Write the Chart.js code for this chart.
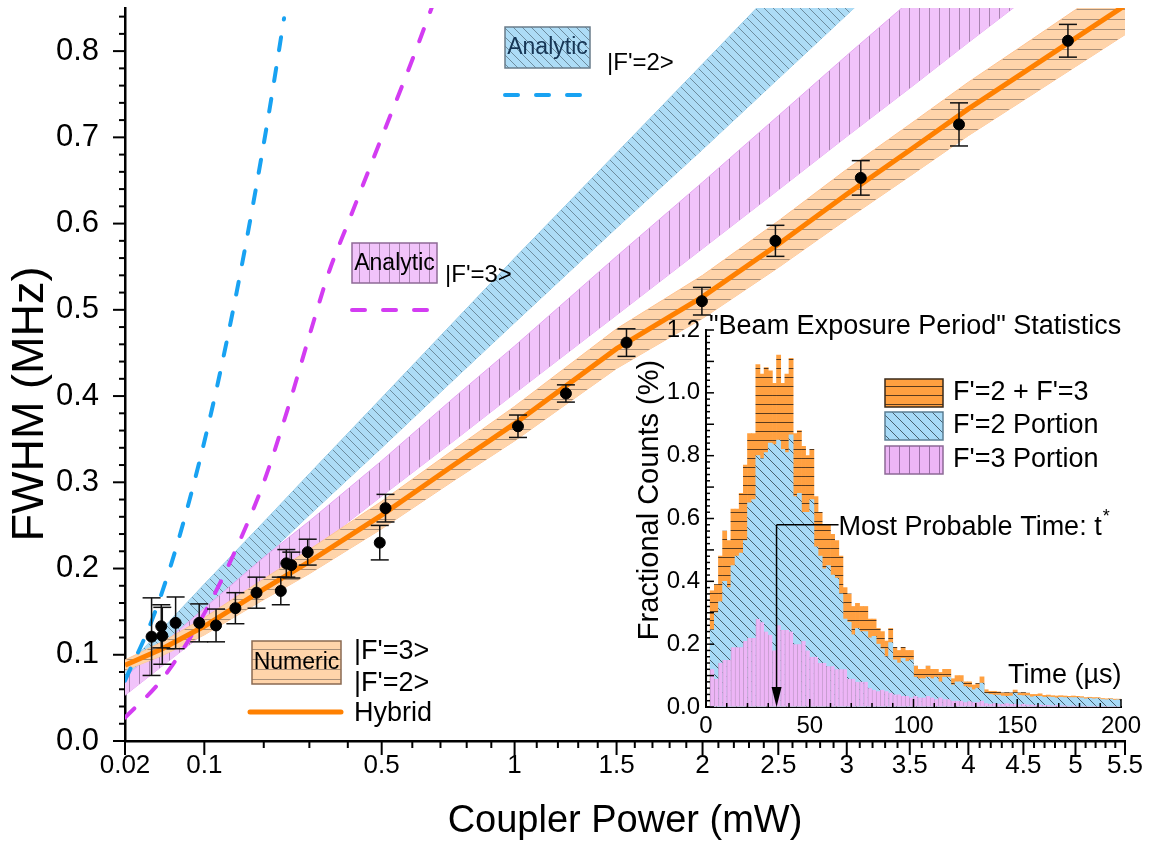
<!DOCTYPE html>
<html>
<head>
<meta charset="utf-8">
<script src="https://cdn.jsdelivr.net/npm/chart.js@4.4.1/dist/chart.umd.min.js"></script>
<style>
  html, body { margin: 0; padding: 0; background: #fff; }
  #wrap { position: relative; width: 1163px; height: 848px; }
  #wrap canvas { position: absolute; left: 0; top: 0; }
</style>
</head>
<body>
<div id="wrap">
  <canvas id="main" width="1163" height="848"></canvas>
  <canvas id="inset" width="1163" height="848"></canvas>
</div>
<script>
// ---------- main chart data ----------
const powerTicks = [0.02, 0.1, 0.5, 1, 1.5, 2, 2.5, 3, 3.5, 4, 4.5, 5, 5.5];
const fwhmTicks = [0, 0.1, 0.2, 0.3, 0.4, 0.5, 0.6, 0.7, 0.8];

const measPower = [0.04, 0.049, 0.05, 0.064, 0.093, 0.117, 0.148, 0.186, 0.235, 0.247, 0.258, 0.296, 0.494, 0.512, 1.015, 1.239, 1.554, 1.996, 2.48, 3.108, 3.918, 4.926];
const measFwhm = [0.121, 0.133, 0.122, 0.137, 0.137, 0.134, 0.154, 0.172, 0.174, 0.206, 0.204, 0.219, 0.230, 0.270, 0.365, 0.403, 0.462, 0.510, 0.580, 0.653, 0.715, 0.812];
const measErr = [0.045, 0.025, 0.033, 0.030, 0.022, 0.019, 0.018, 0.018, 0.016, 0.016, 0.015, 0.015, 0.020, 0.016, 0.013, 0.010, 0.016, 0.016, 0.018, 0.020, 0.025, 0.019];

const curvePower = [0.02, 0.05, 0.1, 0.2, 0.3, 0.5, 0.75, 1, 1.5, 2, 2.5, 3, 3.5, 4, 4.5, 5, 5.5];
const hybridFwhm = [0.088, 0.107, 0.133, 0.176, 0.208, 0.262, 0.32, 0.368, 0.455, 0.515, 0.576, 0.634, 0.685, 0.733, 0.775, 0.815, 0.853];
const numericUpper = [0.094, 0.115, 0.143, 0.188, 0.222, 0.278, 0.338, 0.388, 0.478, 0.54, 0.603, 0.663, 0.715, 0.764, 0.807, 0.848, 0.887];
const numericLower = [0.082, 0.099, 0.123, 0.164, 0.194, 0.246, 0.302, 0.348, 0.432, 0.49, 0.549, 0.605, 0.655, 0.702, 0.743, 0.782, 0.819];
const analyticF2Upper = [0.085, 0.130, 0.182, 0.254, 0.310, 0.398, 0.486, 0.560, 0.682, 0.785, 0.876, 0.958, 1.03, 1.10, 1.17, 1.23, 1.29];
const analyticF2Lower = [0.060, 0.101, 0.147, 0.212, 0.262, 0.340, 0.419, 0.485, 0.595, 0.686, 0.768, 0.842, 0.910, 0.973, 1.03, 1.09, 1.14];
const analyticF3Upper = [0.074, 0.112, 0.154, 0.213, 0.255, 0.325, 0.398, 0.458, 0.562, 0.648, 0.725, 0.795, 0.858, 0.916, 0.971, 1.024, 1.073];
const analyticF3Lower = [0.053, 0.087, 0.125, 0.178, 0.219, 0.284, 0.348, 0.403, 0.494, 0.571, 0.639, 0.701, 0.757, 0.810, 0.859, 0.906, 0.950];

const dashF2Power = [0.02, 0.04, 0.06, 0.08, 0.1, 0.12, 0.15, 0.18, 0.21, 0.242];
const dashF2Fwhm = [0.07, 0.139, 0.208, 0.278, 0.347, 0.416, 0.52, 0.624, 0.727, 0.838];
const dashF3Power = [0.02, 0.05, 0.1, 0.15, 0.2, 0.25, 0.3, 0.35, 0.4, 0.5, 0.6, 0.67];
const dashF3Fwhm = [0.027, 0.072, 0.148, 0.224, 0.30, 0.385, 0.47, 0.545, 0.60, 0.70, 0.79, 0.852];

// ---------- inset histogram data (2 us bins starting at 2 us) ----------
const timeTicks = [0, 50, 100, 150, 200];
const countTicks = [0, 0.1, 0.2, 0.3, 0.4, 0.5, 0.6, 0.7, 0.8, 0.9, 1.0, 1.1, 1.2];
const binCenters = Array.from({ length: 99 }, (_, i) => 3 + 2 * i);
const totalCounts = [
  0.37, 0.39, 0.48, 0.56, 0.53, 0.63, 0.63, 0.68, 0.77, 0.87,
  0.87, 1.09, 1.06, 1.08, 1.07, 1.03, 1.12, 1.03, 1.06, 1.11,
  0.87, 0.88, 0.83, 0.80, 0.82, 0.67, 0.62, 0.58, 0.58, 0.55,
  0.53, 0.48, 0.38, 0.36, 0.32, 0.33, 0.32, 0.32, 0.28, 0.28,
  0.25, 0.24, 0.21, 0.25, 0.19, 0.18, 0.19, 0.18, 0.18, 0.13,
  0.12, 0.12, 0.13, 0.12, 0.12, 0.11, 0.12, 0.12, 0.09, 0.10,
  0.10, 0.08, 0.08, 0.07, 0.075, 0.096, 0.055, 0.05, 0.05, 0.048,
  0.045, 0.046, 0.045, 0.054, 0.045, 0.046, 0.044, 0.04, 0.04, 0.042,
  0.037, 0.038, 0.036, 0.035, 0.036, 0.035, 0.034, 0.035, 0.034, 0.033,
  0.03, 0.031, 0.03, 0.03, 0.027, 0.026, 0.027, 0.025, 0.025
];
const f2Counts = [
  0.245, 0.30, 0.335, 0.40, 0.38, 0.45, 0.48, 0.49, 0.53, 0.65,
  0.66, 0.80, 0.79, 0.81, 0.84, 0.835, 0.85, 0.82, 0.81, 0.866,
  0.67, 0.68, 0.62, 0.62, 0.66, 0.51, 0.48, 0.44, 0.45, 0.42,
  0.41, 0.36, 0.28, 0.27, 0.23, 0.25, 0.24, 0.24, 0.22, 0.225,
  0.20, 0.185, 0.16, 0.205, 0.15, 0.14, 0.155, 0.145, 0.15, 0.095,
  0.09, 0.09, 0.095, 0.09, 0.095, 0.08, 0.095, 0.095, 0.07, 0.08,
  0.08, 0.065, 0.062, 0.055, 0.06, 0.076, 0.043, 0.04, 0.038, 0.038,
  0.035, 0.034, 0.035, 0.044, 0.037, 0.036, 0.036, 0.032, 0.034, 0.034,
  0.031, 0.032, 0.031, 0.029, 0.031, 0.03, 0.03, 0.03, 0.03, 0.029,
  0.026, 0.028, 0.026, 0.027, 0.024, 0.023, 0.025, 0.022, 0.023
];
const f3Counts = [
  0.12, 0.09, 0.14, 0.15, 0.15, 0.19, 0.19, 0.19, 0.21, 0.22,
  0.22, 0.28, 0.27, 0.24, 0.23, 0.18, 0.26, 0.245, 0.245, 0.24,
  0.20, 0.20, 0.21, 0.18, 0.16, 0.16, 0.14, 0.14, 0.13, 0.13,
  0.12, 0.12, 0.12, 0.09, 0.09, 0.08, 0.08, 0.08, 0.06, 0.055,
  0.05, 0.055, 0.05, 0.045, 0.04, 0.04, 0.035, 0.035, 0.03, 0.035,
  0.03, 0.03, 0.035, 0.03, 0.025, 0.03, 0.025, 0.025, 0.02, 0.02,
  0.02, 0.015, 0.018, 0.015, 0.015, 0.02, 0.012, 0.01, 0.012, 0.01,
  0.01, 0.012, 0.01, 0.01, 0.008, 0.01, 0.008, 0.008, 0.006, 0.008,
  0.006, 0.006, 0.005, 0.006, 0.005, 0.005, 0.004, 0.005, 0.004, 0.004,
  0.004, 0.003, 0.004, 0.003, 0.003, 0.003, 0.002, 0.003, 0.002
];
const mostProbableTime = 34;
const mostProbableLevel = 0.58;

const FONT = "'Liberation Sans', Arial, Helvetica, sans-serif";
Chart.defaults.font.family = FONT;
Chart.defaults.color = '#000';

// x axis of the main plot is a square-root power axis
class SqrtScale extends Chart.LinearScale {
  buildTicks() {
    this.min = powerTicks[0];
    this.max = powerTicks[powerTicks.length - 1];
    return powerTicks.map(v => ({ value: v }));
  }
  getPixelForValue(v) {
    const a = Math.sqrt(this.min), b = Math.sqrt(this.max);
    return this.getPixelForDecimal((Math.sqrt(v) - a) / (b - a));
  }
  getValueForPixel(p) {
    const a = Math.sqrt(this.min), b = Math.sqrt(this.max);
    const s = a + this.getDecimalForPixel(p) * (b - a);
    return s * s;
  }
}
SqrtScale.id = 'sqrt';
SqrtScale.defaults = Chart.LinearScale.defaults;
Chart.register(SqrtScale);

function hatch(ctx, bg, ink, size, dir) {
  const c = document.createElement('canvas');
  c.width = size; c.height = size;
  const g = c.getContext('2d');
  g.fillStyle = bg;
  g.fillRect(0, 0, size, size);
  g.strokeStyle = ink;
  g.lineWidth = 1;
  g.beginPath();
  if (dir === 'h') { g.moveTo(0, size - 0.5); g.lineTo(size, size - 0.5); }
  else if (dir === 'v') { g.moveTo(size - 0.5, 0); g.lineTo(size - 0.5, size); }
  else { for (const k of [-size, 0, size]) { g.moveTo(k, 0); g.lineTo(k + size, size); } }
  g.stroke();
  return ctx.createPattern(c, 'repeat');
}

const pts = (xs, ys) => xs.map((x, i) => ({ x: x, y: ys[i] }));

// pin the plot box: no extra room for half tick labels
function pinBox(size, key) {
  return s => {
    s[key] = size;
    s.paddingTop = 0; s.paddingBottom = 0; s.paddingLeft = 0; s.paddingRight = 0;
  };
}

function seg(ctx, x1, y1, x2, y2) {
  ctx.beginPath(); ctx.moveTo(x1, y1); ctx.lineTo(x2, y2); ctx.stroke();
}

function text(ctx, s, x, y, size, align, color) {
  ctx.font = size + 'px ' + FONT;
  ctx.textAlign = align || 'left';
  ctx.textBaseline = 'middle';
  ctx.fillStyle = color || '#000';
  ctx.fillText(s, x, y);
}

const mctx = document.getElementById('main').getContext('2d');
const blueBand = hatch(mctx, '#ADDCF6', '#6D8C9E', 9, 'd');
const pinkBand = hatch(mctx, '#F1C3FA', '#A883B0', 10, 'v');
const orangeBand = hatch(mctx, '#FFD4AA', '#A98F78', 10, 'h');

// error bars, ticks and the hand-made legends of the main plot
const mainDecor = {
  id: 'mainDecor',
  beforeDatasetDraw(chart, args) {
    if (args.index !== 0) return;
    const { ctx, scales: { x, y } } = chart;
    ctx.save();
    ctx.strokeStyle = '#111';
    ctx.lineWidth = 1.5;
    measPower.forEach((p, i) => {
      const px = x.getPixelForValue(p);
      const top = y.getPixelForValue(measFwhm[i] + measErr[i]);
      const bot = y.getPixelForValue(measFwhm[i] - measErr[i]);
      seg(ctx, px, top, px, bot);
      seg(ctx, px - 9, top, px + 9, top);
      seg(ctx, px - 9, bot, px + 9, bot);
    });
    ctx.restore();
  },
  afterDraw(chart) {
    const { ctx, scales: { x, y } } = chart;
    ctx.save();
    ctx.strokeStyle = '#000';
    ctx.lineWidth = 2;
    // x ticks (outward)
    for (let k = 1; k <= 54; k++) {
      const v = k / 10;
      const major = powerTicks.some(t => Math.abs(t - v) < 1e-9);
      const px = x.getPixelForValue(v);
      seg(ctx, px, y.bottom, px, y.bottom + (major ? 14 : 7));
    }
    seg(ctx, x.left, y.bottom, x.left, y.bottom + 14);
    seg(ctx, x.right, y.bottom, x.right, y.bottom + 14);
    // y ticks (outward)
    for (let k = 0; k <= 42; k++) {
      const py = y.getPixelForValue(k * 0.02);
      seg(ctx, x.left, py, x.left - (k % 5 === 0 ? 12 : 6), py);
    }

    // y title, sitting a little below the plot centre as in the original
    ctx.save();
    ctx.translate(31, 404);
    ctx.rotate(-Math.PI / 2);
    text(ctx, 'FWHM (MHz)', 0, 0, 45, 'center');
    ctx.restore();

    // Analytic |F'=2>
    ctx.fillStyle = blueBand;
    ctx.fillRect(505, 27, 85, 41);
    ctx.strokeStyle = '#6A7C8A'; ctx.lineWidth = 1.5;
    ctx.strokeRect(505, 27, 85, 41);
    text(ctx, 'Analytic', 547.5, 48, 23, 'center', '#163655');
    text(ctx, "|F'=2>", 607, 63, 24);
    ctx.strokeStyle = '#18A2F2'; ctx.lineWidth = 4; ctx.lineCap = 'round';
    ctx.setLineDash([13, 18]);
    seg(ctx, 505, 95, 582, 95);

    // Analytic |F'=3>
    ctx.setLineDash([]);
    ctx.fillStyle = pinkBand;
    ctx.fillRect(352, 243, 85, 40);
    ctx.strokeStyle = '#8E6A96'; ctx.lineWidth = 1.5; ctx.lineCap = 'butt';
    ctx.strokeRect(352, 243, 85, 40);
    text(ctx, 'Analytic', 394.5, 264, 23, 'center');
    text(ctx, "|F'=3>", 445, 275, 24);
    ctx.strokeStyle = '#D33CF2'; ctx.lineWidth = 4; ctx.lineCap = 'round';
    ctx.setLineDash([13, 18]);
    seg(ctx, 352, 310, 430, 310);

    // Numeric / Hybrid
    ctx.setLineDash([]);
    ctx.fillStyle = orangeBand;
    ctx.fillRect(252, 641, 89, 43);
    ctx.strokeStyle = '#8A6A52'; ctx.lineWidth = 1.5; ctx.lineCap = 'butt';
    ctx.strokeRect(252, 641, 89, 43);
    text(ctx, 'Numeric', 296.5, 663, 23, 'center');
    text(ctx, "|F'=3>", 354, 652, 27);
    text(ctx, "|F'=2>", 354, 684, 27);
    ctx.strokeStyle = '#FF8000'; ctx.lineWidth = 5; ctx.lineCap = 'round';
    seg(ctx, 250, 712, 341, 712);
    text(ctx, 'Hybrid', 354, 714, 27);
    ctx.restore();
  }
};

new Chart(mctx, {
  type: 'line',
  data: {
    datasets: [
      { label: 'Measured', data: pts(measPower, measFwhm), showLine: false,
        pointRadius: 5.5, pointBackgroundColor: '#000', pointBorderColor: '#000', order: 0 },
      { label: 'Hybrid', data: pts(curvePower, hybridFwhm), borderColor: '#FF8000',
        borderWidth: 5, pointRadius: 0, order: 1 },
      { label: "Analytic |F'=2> line", data: pts(dashF2Power, dashF2Fwhm), borderColor: '#18A2F2',
        borderWidth: 4, borderDash: [13, 18], borderCapStyle: 'round', pointRadius: 0,
        cubicInterpolationMode: 'monotone', order: 2 },
      { label: "Analytic |F'=3> line", data: pts(dashF3Power, dashF3Fwhm), borderColor: '#D33CF2',
        borderWidth: 4, borderDash: [13, 18], borderCapStyle: 'round', pointRadius: 0,
        cubicInterpolationMode: 'monotone', order: 2 },
      { label: 'Numeric upper', data: pts(curvePower, numericUpper), fill: '+1',
        backgroundColor: orangeBand, borderColor: '#FFC596', borderWidth: 1, pointRadius: 0, order: 3 },
      { label: 'Numeric lower', data: pts(curvePower, numericLower),
        borderColor: '#FFC596', borderWidth: 1, pointRadius: 0, order: 3 },
      { label: "Analytic |F'=3> upper", data: pts(curvePower, analyticF3Upper), fill: '+1',
        backgroundColor: pinkBand, borderColor: '#E6A8F2', borderWidth: 1, pointRadius: 0, order: 4 },
      { label: "Analytic |F'=3> lower", data: pts(curvePower, analyticF3Lower),
        borderColor: '#E6A8F2', borderWidth: 1, pointRadius: 0, order: 4 },
      { label: "Analytic |F'=2> upper", data: pts(curvePower, analyticF2Upper), fill: '+1',
        backgroundColor: blueBand, borderColor: '#9CCFEA', borderWidth: 1, pointRadius: 0, order: 5 },
      { label: "Analytic |F'=2> lower", data: pts(curvePower, analyticF2Lower),
        borderColor: '#9CCFEA', borderWidth: 1, pointRadius: 0, order: 5 }
    ]
  },
  options: {
    responsive: false,
    animation: false,
    events: [],
    layout: { padding: { top: 8, right: 38, left: 0, bottom: 0 } },
    plugins: { legend: { display: false }, tooltip: { enabled: false } },
    scales: {
      x: {
        type: 'sqrt',
        min: 0.02, max: 5.5,
        grid: { drawOnChartArea: false, drawTicks: false },
        border: { color: '#000', width: 2.5 },
        ticks: { font: { size: 26 }, padding: 9, autoSkip: false, maxRotation: 0, callback: v => String(v) },
        title: { display: true, text: 'Coupler Power (mW)', font: { size: 38 }, padding: { top: 0, bottom: 4 } },
        afterFit: pinBox(107, 'height')
      },
      y: {
        min: 0, max: 0.85,
        grid: { drawOnChartArea: false, drawTicks: false },
        border: { color: '#000', width: 2.5 },
        ticks: { font: { size: 31 }, padding: 26, stepSize: 0.1, includeBounds: false,
          callback: v => v.toFixed(1) },
        afterFit: pinBox(125, 'width')
      }
    }
  },
  plugins: [mainDecor]
});

// ---------- inset ----------
const ictx = document.getElementById('inset').getContext('2d');
const orangeBars = hatch(ictx, '#FFA040', '#5A3A1C', 9, 'h');
const blueBars = hatch(ictx, '#A7DAF7', '#47606F', 10, 'd');
const pinkBox = hatch(ictx, '#EDB5F6', '#9A6FA6', 10, 'v');

const insetDecor = {
  id: 'insetDecor',
  afterDraw(chart) {
    const { ctx, scales: { x, y } } = chart;
    ctx.save();
    ctx.strokeStyle = '#000';
    ctx.lineWidth = 1.5;
    for (let t = 0; t <= 200; t += 10) {
      const px = x.getPixelForValue(t);
      seg(ctx, px, y.bottom, px, y.bottom - (t % 50 === 0 ? 8 : 4));
    }
    for (let k = 0; k <= 60; k++) {
      const py = y.getPixelForValue(k * 0.02);
      seg(ctx, x.left, py, x.left + (k % 5 === 0 ? 8 : 4), py);
    }

    text(ctx, '"Beam Exposure Period" Statistics', 709, 327, 27);
    ctx.save();
    ctx.translate(650, 500);
    ctx.rotate(-Math.PI / 2);
    text(ctx, 'Fractional Counts (%)', 0, 0, 29, 'center');
    ctx.restore();
    text(ctx, 'Time (\u00b5s)', 1008, 676, 27);

    // legend
    const rows = [
      [orangeBars, '#3A2A1A', "F'=2 + F'=3", 379],
      [blueBars, '#5C7F94', "F'=2 Portion", 412],
      [pinkBox, '#8D6A96', "F'=3 Portion", 446]
    ];
    rows.forEach(([fill, edge, label, top]) => {
      ctx.fillStyle = fill;
      ctx.fillRect(885, top, 58, 28);
      ctx.strokeStyle = edge; ctx.lineWidth = 1.5;
      ctx.strokeRect(885, top, 58, 28);
      text(ctx, label, 953, top + 14, 27);
    });

    // most probable time marker
    const ax = x.getPixelForValue(mostProbableTime);
    const ay = y.getPixelForValue(mostProbableLevel);
    ctx.strokeStyle = '#000'; ctx.lineWidth = 1.5;
    seg(ctx, ax, ay, ax + 62, ay);
    seg(ctx, ax, ay, ax, y.bottom - 14);
    ctx.fillStyle = '#000';
    ctx.beginPath();
    ctx.moveTo(ax - 5, y.bottom - 20);
    ctx.lineTo(ax + 5, y.bottom - 20);
    ctx.lineTo(ax, y.bottom);
    ctx.closePath();
    ctx.fill();
    text(ctx, 'Most Probable Time: t', ax + 62, ay + 3, 27);
    ctx.font = '27px ' + FONT;
    const w = ctx.measureText('Most Probable Time: t').width;
    text(ctx, '*', ax + 63 + w, ay - 8, 18);
    ctx.restore();
  }
};

const bins = vals => binCenters.map((t, i) => ({ x: t, y: vals[i] }));

new Chart(ictx, {
  type: 'bar',
  data: {
    datasets: [
      { label: "F'=3 Portion", data: bins(f3Counts), backgroundColor: '#EDB5F6',
        borderColor: '#C79ED0', borderWidth: { left: 1, right: 0, top: 0, bottom: 0 }, order: 0 },
      { label: "F'=2 Portion", data: bins(f2Counts), backgroundColor: blueBars, borderWidth: 0, order: 1 },
      { label: "F'=2 + F'=3", data: bins(totalCounts), backgroundColor: orangeBars, borderWidth: 0, order: 2 }
    ]
  },
  options: {
    responsive: false,
    animation: false,
    events: [],
    layout: { padding: { top: 330, right: 42, left: 0, bottom: 0 } },
    datasets: { bar: { grouped: false, barPercentage: 1, categoryPercentage: 1 } },
    plugins: { legend: { display: false }, tooltip: { enabled: false } },
    scales: {
      x: {
        type: 'linear', min: 0, max: 200, offset: false,
        grid: { drawOnChartArea: false, drawTicks: false, offset: false },
        border: { color: '#000', width: 2 },
        ticks: { font: { size: 24 }, padding: 5, stepSize: 50, maxRotation: 0 },
        afterBuildTicks: s => { s.ticks = timeTicks.map(v => ({ value: v })); },
        afterFit: pinBox(141, 'height')
      },
      y: {
        min: 0, max: 1.2,
        grid: { drawOnChartArea: false, drawTicks: false },
        border: { color: '#000', width: 2 },
        ticks: { font: { size: 24 }, padding: 6, callback: v => v.toFixed(1) },
        afterBuildTicks: s => { s.ticks = countTicks.map(v => ({ value: v })); },
        afterFit: pinBox(706, 'width')
      }
    }
  },
  plugins: [insetDecor]
});
</script>
</body>
</html>
